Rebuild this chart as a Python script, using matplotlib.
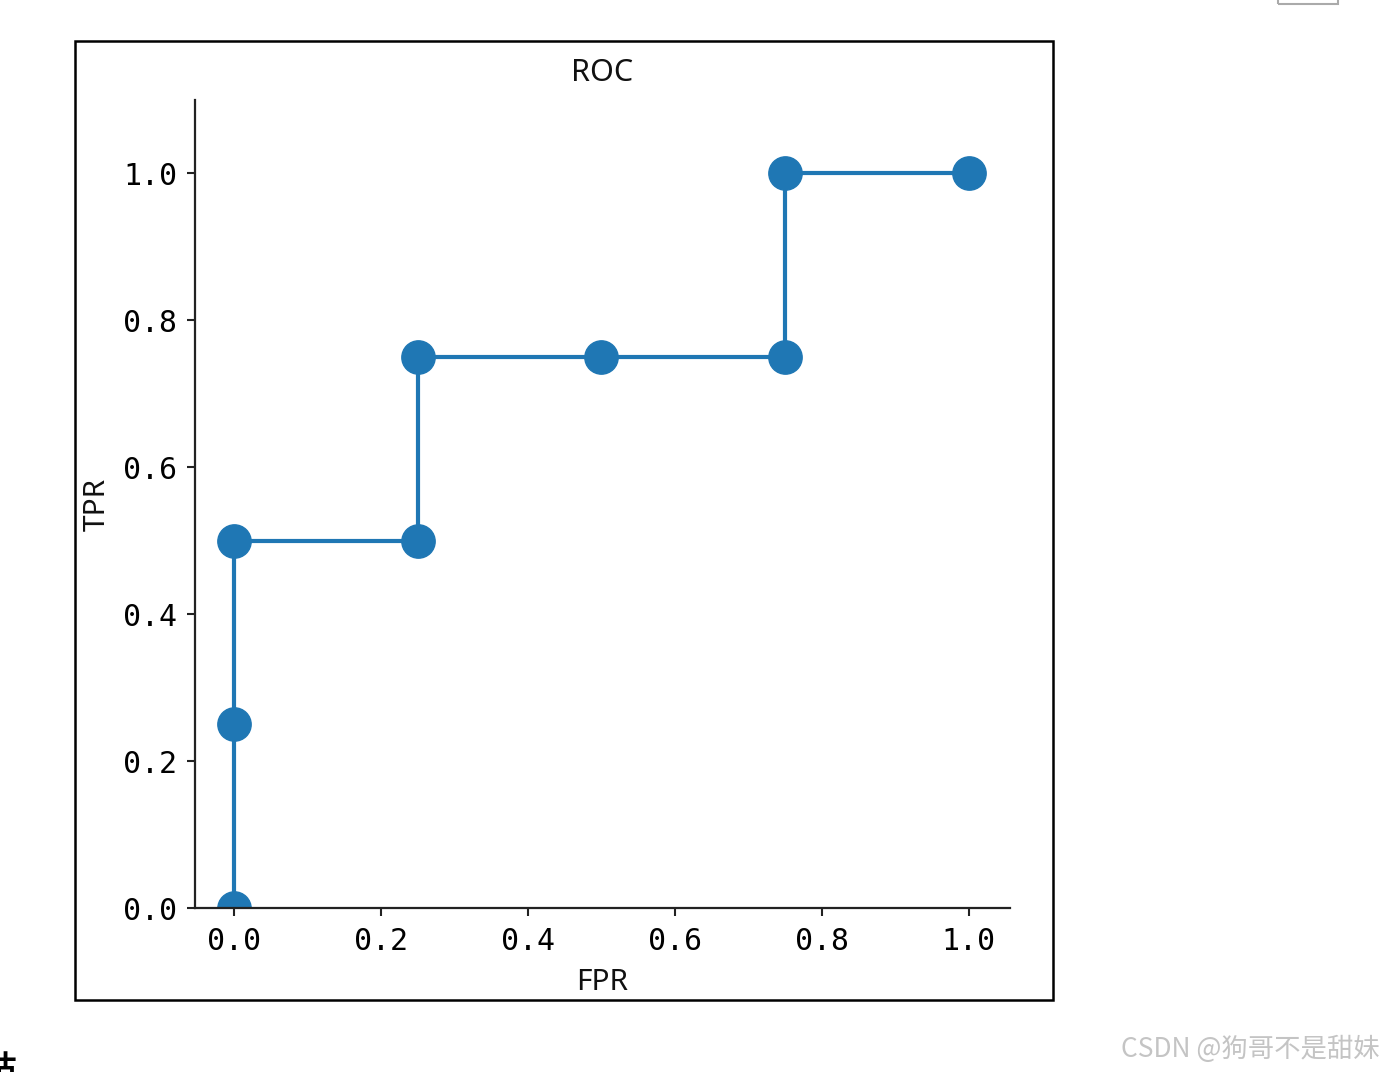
import matplotlib
matplotlib.use('Agg')
import matplotlib.pyplot as plt
from matplotlib.patches import Rectangle

# ROC points
fpr = [0.0, 0.0, 0.0, 0.25, 0.25, 0.5, 0.75, 0.75, 1.0]
tpr = [0.0, 0.25, 0.5, 0.5, 0.75, 0.75, 0.75, 1.0, 1.0]
xticks = [0.0, 0.2, 0.4, 0.6, 0.8, 1.0]
yticks = [0.0, 0.2, 0.4, 0.6, 0.8, 1.0]

W, H = 1384, 1072
fig = plt.figure(figsize=(W / 100, H / 100), dpi=100)

def fx(px):
    return px / W

def fy(py):
    return 1 - py / H

# black frame around the embedded image
fig.patches.append(Rectangle((fx(75), fy(1000)), fx(1053) - fx(75), fy(41) - fy(1000),
                             transform=fig.transFigure, fill=False, edgecolor='black', lw=1.8))
# small grey box at the top right
fig.patches.append(Rectangle((fx(1278), fy(4)), fx(1338) - fx(1278), 0.02,
                             transform=fig.transFigure, fill=False, edgecolor='#aaaaaa', lw=1.5))

ax = fig.add_axes([fx(195), fy(908), fx(1010) - fx(195), fy(100) - fy(908)])
ax.plot(fpr, tpr, color='#1f77b4', lw=3, marker='o', markersize=24)
ax.set_xlim(-0.053, 1.056)
ax.set_ylim(0, 1.1)
ax.set_xticks(xticks)
ax.set_yticks(yticks)
ax.set_xticklabels([f'{t:.1f}' for t in xticks], family='DejaVu Sans Mono', fontsize=21.5)
ax.set_yticklabels([f'{t:.1f}' for t in yticks], family='DejaVu Sans Mono', fontsize=21.5)
ax.tick_params(axis='x', length=6, width=1.5, pad=8, color='#222222')
ax.tick_params(axis='y', length=6, width=1.5, pad=7, color='#222222')
for s in ['top', 'right']:
    ax.spines[s].set_visible(False)
for s in ['left', 'bottom']:
    ax.spines[s].set_linewidth(1.6)
    ax.spines[s].set_color('#222222')

ax.set_title('ROC', family='Noto Sans', fontsize=22, pad=14, color='#111111')
ax.set_xlabel('FPR', family='Noto Sans', fontsize=21.5, labelpad=8, color='#111111')
ax.set_ylabel('TPR', family='Noto Sans', fontsize=21.5, labelpad=8, color='#111111')

fig.text(fx(1380), fy(1049), 'CSDN @狗哥不是甜妹', ha='right', va='center',
         family=['Noto Sans CJK SC', 'DejaVu Sans'], fontsize=19, color='#c4c4c4')
fig.text(fx(-14), fy(1084), '估', ha='left', va='bottom',
         family=['Noto Sans CJK SC'], fontsize=22, fontweight='bold', color='black')

fig.savefig('out.png', dpi=100)
